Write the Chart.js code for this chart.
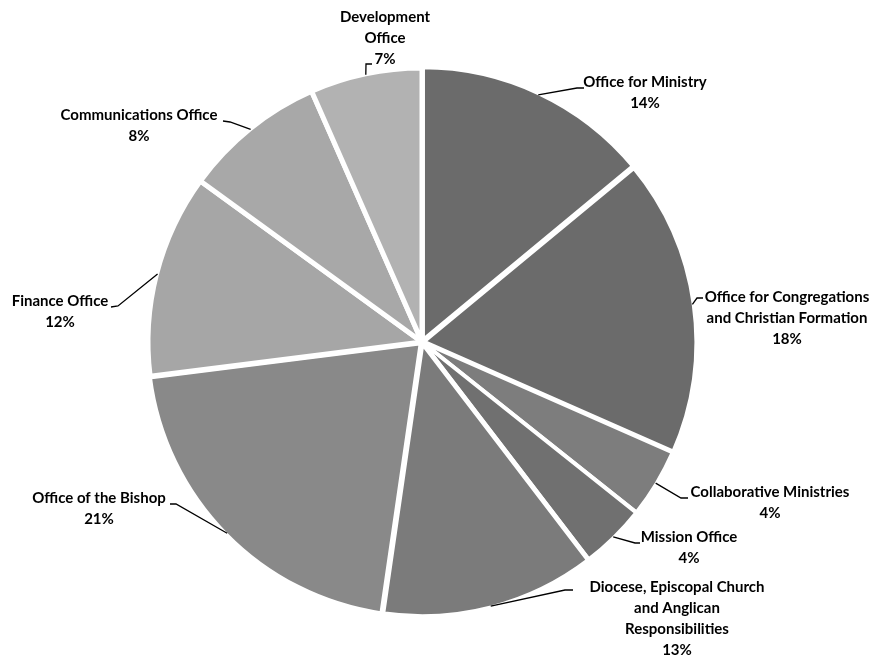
<!DOCTYPE html>
<html>
<head>
<meta charset="utf-8">
<script src="https://cdn.jsdelivr.net/npm/chart.js@4"></script>
<style>
  html, body { margin: 0; padding: 0; background: #fff; }
  #wrap { width: 885px; height: 658px; }
</style>
</head>
<body>
<div id="wrap"><canvas id="pie_chart" width="885" height="658"></canvas></div>
<script>
// ===== Data (clockwise from 12 o'clock) =====
const CATEGORIES = [
  'Office for Ministry',
  'Office for Congregations and Christian Formation',
  'Collaborative Ministries',
  'Mission Office',
  'Diocese, Episcopal Church and Anglican Responsibilities',
  'Office of the Bishop',
  'Finance Office',
  'Communications Office',
  'Development Office'
];
const SHARES = [14.0, 17.6, 4.1, 3.9, 12.7, 20.7, 12.0, 8.4, 6.6];
const COLORS = ['#6b6b6b', '#6b6b6b', '#7d7d7d', '#707070', '#7b7b7b', '#898989', '#a6a6a6', '#a8a8a8', '#b2b2b2'];
const OFFSETS = [4, 3, 0, 0, 2, 4, 0, 0, 0];
const BORDERS = [5, 5, 4, 4, 5, 5, 5, 5, 5];

// Label layout: text lines (category wrapped), centre x, first-line y, leader elbow and end
const LABEL_LAYOUT = [
  { lines: ['Office for Ministry'], x: 645, y: 82, elbow: [577, 88], end: [584, 88] },
  { lines: ['Office for Congregations', 'and Christian Formation'], x: 787, y: 297, elbow: [697, 298], end: [703, 298] },
  { lines: ['Collaborative Ministries'], x: 770, y: 492, elbow: [681, 498], end: [688, 498] },
  { lines: ['Mission Office'], x: 689, y: 537, elbow: [635, 543], end: [640, 543] },
  { lines: ['Diocese, Episcopal Church', 'and Anglican', 'Responsibilities'], x: 677, y: 587, elbow: [565, 590], end: [573, 590] },
  { lines: ['Office of the Bishop'], x: 99, y: 498, elbow: [176, 504], end: [170, 504] },
  { lines: ['Finance Office'], x: 60, y: 301, elbow: [118, 306], end: [111, 307] },
  { lines: ['Communications Office'], x: 139, y: 115, elbow: [230, 122], end: [223, 121] },
  { lines: ['Development', 'Office'], x: 385, y: 17, elbow: [366, 64], end: [372, 64] }
];

const FONT = 'bold 15px Lato, "DejaVu Sans", sans-serif';
const LINE_H = 21;

// ===== Plugin: outside labels with leader lines =====
const outsideLabelsPlugin = {
  id: 'outsideLabels',
  afterDraw(chart) {
    const { ctx } = chart;
    const meta = chart.getDatasetMeta(0);
    const total = SHARES.reduce((a, b) => a + b, 0);

    ctx.save();
    meta.data.forEach((arc, i) => {
      const lay = LABEL_LAYOUT[i];
      if (!lay) return;
      const p = arc.getProps(['x', 'y', 'startAngle', 'endAngle', 'outerRadius'], true);
      const mid = (p.startAngle + p.endAngle) / 2;
      const sx = p.x + Math.cos(mid) * (p.outerRadius - 1);
      const sy = p.y + Math.sin(mid) * (p.outerRadius - 1);

      // leader line
      ctx.beginPath();
      ctx.strokeStyle = '#000';
      ctx.lineWidth = 1.3;
      ctx.moveTo(sx, sy);
      ctx.lineTo(lay.elbow[0], lay.elbow[1]);
      ctx.lineTo(lay.end[0], lay.end[1]);
      ctx.stroke();

      // text
      const pct = Math.round(SHARES[i] / total * 100) + '%';
      const lines = lay.lines.concat([pct]);
      ctx.font = FONT;
      ctx.fillStyle = '#000';
      ctx.textAlign = 'center';
      ctx.textBaseline = 'middle';
      lines.forEach((t, k) => ctx.fillText(t, lay.x, lay.y + k * LINE_H));
    });
    ctx.restore();
  }
};

new Chart(document.getElementById('pie_chart').getContext('2d'), {
  type: 'pie',
  data: {
    labels: CATEGORIES,
    datasets: [{
      data: SHARES,
      backgroundColor: COLORS,
      borderColor: '#ffffff',
      borderWidth: BORDERS,
      offset: OFFSETS,
      hoverOffset: 0
    }]
  },
  options: {
    responsive: false,
    animation: false,
    radius: 274,
    layout: { padding: { left: 0, right: 41, top: 26, bottom: 0 } },
    plugins: {
      legend: { display: false },
      tooltip: { enabled: false }
    }
  },
  plugins: [outsideLabelsPlugin]
});
</script>
</body>
</html>
